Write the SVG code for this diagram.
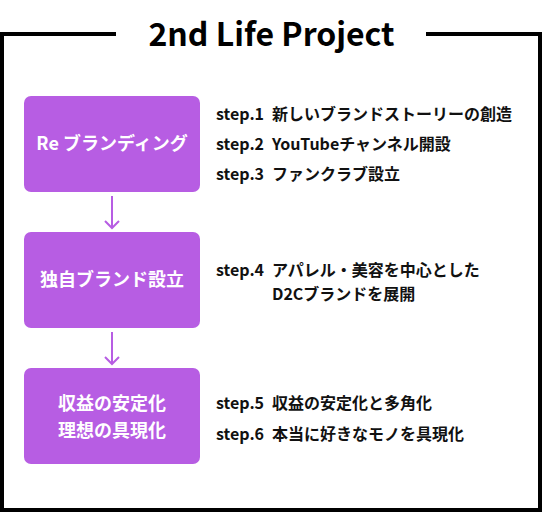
<svg xmlns="http://www.w3.org/2000/svg" width="542" height="512" viewBox="0 0 542 512">
<style>
.frame{fill:none;stroke:#000;stroke-width:4}
.box{fill:#B75DE3}
.bt{font-family:"Noto Sans CJK JP","Noto Sans",sans-serif;font-weight:bold;font-size:18px;fill:#fff;text-anchor:middle}
.st{font-family:"Noto Sans CJK JP","Noto Sans",sans-serif;font-weight:bold;font-size:16px;fill:#111}
.title{font-family:"Noto Sans CJK JP","Noto Sans",sans-serif;font-weight:bold;font-size:32px;fill:#000;text-anchor:middle}
.arr{fill:none;stroke:#B75DE3;stroke-width:2}
</style>
<rect width="542" height="512" fill="#fff"/>
<g id="frame">
<path class="frame" d="M116,34 H2 V510 H540 V34 H426"/>
<text class="title" x="271.5" y="46">2nd Life Project</text>
</g>
<g id="connectors">
<path class="arr" d="M112,196 V227 M105,221 L112,228 L119,221"/>
<path class="arr" d="M112,332 V363 M105,357 L112,364 L119,357"/>
</g>
<g id="node1">
<rect class="box" x="24" y="96" width="176" height="96" rx="7"/>
<text class="bt" x="112" y="150">Re ブランディング</text>
</g>
<g id="node2">
<rect class="box" x="24" y="232" width="176" height="96" rx="7"/>
<text class="bt" x="112" y="286">独自ブランド設立</text>
</g>
<g id="node3">
<rect class="box" x="24" y="368" width="176" height="96" rx="7"/>
<text class="bt" x="112" y="410">収益の安定化</text>
<text class="bt" x="112" y="437">理想の具現化</text>
</g>
<g id="steps">
<text class="st" x="216" y="120">step.1</text><text class="st" x="272" y="120">新しいブランドストーリーの創造</text>
<text class="st" x="216" y="150">step.2</text><text class="st" x="272" y="150">YouTubeチャンネル開設</text>
<text class="st" x="216" y="180">step.3</text><text class="st" x="272" y="180">ファンクラブ設立</text>
<text class="st" x="216" y="276">step.4</text><text class="st" x="272" y="276">アパレル・美容を中心とした</text>
<text class="st" x="272" y="300">D2Cブランドを展開</text>
<text class="st" x="216" y="409">step.5</text><text class="st" x="272" y="409">収益の安定化と多角化</text>
<text class="st" x="216" y="440">step.6</text><text class="st" x="272" y="440">本当に好きなモノを具現化</text>
</g>
</svg>
